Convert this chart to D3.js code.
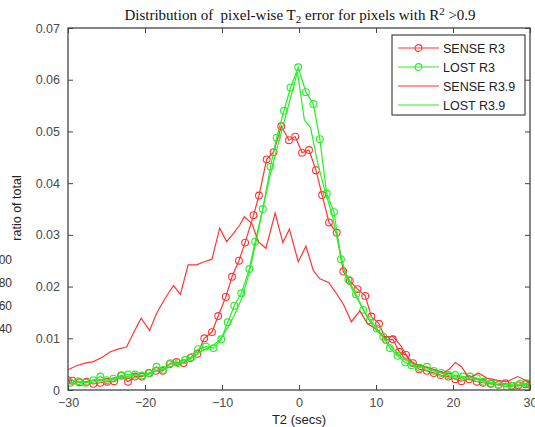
<!DOCTYPE html>
<html lang="en">
<head>
<meta charset="UTF-8">
<title>Distribution of pixel-wise T2 error</title>
<script src="https://d3js.org/d3.v7.min.js"></script>
<style>
    body { margin: 0; background: #fff; }
    .tick text { font-family: "Liberation Sans", Arial, sans-serif; font-size: 12.5px; fill: #4a4a4a; }
    .legend text { font-family: "Liberation Sans", Arial, sans-serif; font-size: 12.5px; fill: #222; }
</style>
</head>
<body>
<div id="chart"></div>
<script>
const width = 535;
const height = 427;
const margin = { top: 28, right: 5, bottom: 37, left: 68 };

// [T2 error (secs), ratio of total]
const senseR3 = [
    [-30, 0.0019], [-29.4, 0.0018], [-28.5, 0.0015], [-27.6, 0.0016], [-26.7, 0.0012], [-25.8, 0.0014],
    [-24.9, 0.0016], [-24.0, 0.0017], [-23.1, 0.0028], [-22.2, 0.0016], [-21.3, 0.0026], [-20.4, 0.0026],
    [-19.5, 0.0033], [-18.6, 0.0037], [-17.7, 0.0037], [-16.8, 0.005], [-15.9, 0.0054], [-15.0, 0.0052],
    [-14.1, 0.0062], [-13.2, 0.007], [-12.3, 0.010], [-11.3, 0.0112], [-10.5, 0.0143], [-9.5, 0.018],
    [-8.7, 0.0219], [-7.8, 0.025], [-7.0, 0.0285], [-5.9, 0.0338], [-5.2, 0.0376], [-4.2, 0.0446],
    [-3.3, 0.046], [-2.3, 0.051], [-1.3, 0.0483], [-0.5, 0.049], [0.4, 0.0459], [1.3, 0.0464],
    [2.2, 0.0425], [3.0, 0.0377], [3.9, 0.0324], [4.9, 0.0304], [5.75, 0.0229], [6.6, 0.0211],
    [7.6, 0.0195], [8.6, 0.0182], [9.4, 0.0142], [10.4, 0.0128], [11.3, 0.0097], [12.2, 0.0098],
    [13.0, 0.0074], [13.9, 0.0068], [14.8, 0.0052], [15.6, 0.004], [16.6, 0.0037], [17.5, 0.0033],
    [18.4, 0.0029], [19.4, 0.0026], [20.3, 0.0021], [21.1, 0.0017], [22.1, 0.0021], [23.1, 0.0016],
    [23.9, 0.0014], [24.9, 0.0012], [25.9, 0.001], [26.8, 0.0013], [27.6, 0.0008], [28.5, 0.0009],
    [29.4, 0.0011], [30, 0.0010]
];

const lostR3 = [
    [-29.7, 0.0014], [-28.7, 0.0017], [-27.7, 0.0014], [-26.7, 0.0019], [-25.8, 0.0026], [-25.0, 0.0019],
    [-24.1, 0.0022], [-23.0, 0.0028], [-22.2, 0.003], [-21.3, 0.003], [-20.4, 0.0028], [-19.4, 0.0032],
    [-18.5, 0.0045], [-17.6, 0.0039], [-16.7, 0.0052], [-15.7, 0.0052], [-14.8, 0.0058], [-13.9, 0.0064],
    [-13.1, 0.0079], [-12.1, 0.0084], [-11.1, 0.0081], [-10.1, 0.0098], [-9.26, 0.0131], [-8.4, 0.0163],
    [-7.5, 0.0187], [-6.45, 0.0234], [-5.7, 0.0287], [-4.7, 0.035], [-3.7, 0.0432], [-2.9, 0.0488],
    [-1.95, 0.054], [-1.1, 0.0585], [-0.1, 0.0624], [0.9, 0.0576], [1.86, 0.0553], [2.7, 0.0485],
    [3.6, 0.038], [4.55, 0.0344], [5.45, 0.0253], [6.4, 0.0214], [7.4, 0.0185], [8.35, 0.0155],
    [9.2, 0.0135], [10.1, 0.0119], [10.95, 0.0103], [11.8, 0.0081], [12.8, 0.0066], [13.8, 0.0053],
    [14.6, 0.0048], [15.7, 0.0043], [16.6, 0.0045], [17.5, 0.0037], [18.5, 0.0033], [19.4, 0.0029],
    [20.3, 0.0029], [21.3, 0.0026], [22.2, 0.0026], [23.1, 0.0023], [24.0, 0.0016], [25.0, 0.0013],
    [25.9, 0.001], [27.0, 0.0006], [27.8, 0.0008], [28.7, 0.0012], [29.6, 0.0013]
];

const senseR39 = [
    [-30, 0.0039], [-28.9, 0.0047], [-27.8, 0.0052], [-26.7, 0.0055], [-25.6, 0.0063], [-24.5, 0.0074],
    [-23.5, 0.0079], [-22.4, 0.0083], [-21.4, 0.0113], [-20.5, 0.0139], [-19.4, 0.0115], [-18.5, 0.0148],
    [-17.4, 0.0177], [-16.3, 0.0202], [-15.4, 0.0185], [-14.4, 0.0242], [-13.3, 0.0242], [-12.3, 0.0248],
    [-11.3, 0.0253], [-10.3, 0.0313], [-9.4, 0.0287], [-8.5, 0.0303], [-7.7, 0.0319], [-7.1, 0.0335],
    [-6.1, 0.0322], [-5.3, 0.0287], [-4.3, 0.0274], [-3.1, 0.0342], [-2.1, 0.0285], [-1.25, 0.0311],
    [-0.1, 0.0248], [0.9, 0.0278], [1.86, 0.0231], [2.7, 0.0215], [3.85, 0.0208], [4.85, 0.0187],
    [5.8, 0.0165], [6.8, 0.0132], [7.9, 0.0153], [8.9, 0.0128], [9.9, 0.0119], [11.0, 0.0102],
    [12.2, 0.0104], [13.3, 0.0084], [14.4, 0.0055], [15.5, 0.0048], [16.6, 0.0044], [17.7, 0.0039],
    [18.7, 0.0033], [19.5, 0.0040], [20.3, 0.0053], [21.1, 0.0045], [22.1, 0.0023], [23.3, 0.0033],
    [24.4, 0.0023], [25.7, 0.0019], [27.0, 0.0016], [28.4, 0.0026], [29.8, 0.0016], [30, 0.0015]
];

const lostR39 = [
    [-30, 0.0012], [-29, 0.0013], [-28, 0.0016], [-27, 0.0014], [-26, 0.0018], [-25, 0.0017],
    [-24, 0.0021], [-23, 0.0025], [-22, 0.0027], [-21, 0.0029], [-20, 0.0027], [-19, 0.0034],
    [-18, 0.0040], [-17, 0.0043], [-16, 0.0049], [-15, 0.0054], [-14, 0.0061], [-13, 0.0072],
    [-12, 0.0080], [-11, 0.0088], [-10.1, 0.0100], [-9.2, 0.0122], [-8.3, 0.0148], [-7.4, 0.0178],
    [-6.5, 0.0225], [-5.6, 0.0285], [-4.7, 0.035], [-3.8, 0.0412], [-2.9, 0.0465], [-2.0, 0.0515],
    [-1.1, 0.0565], [-0.2, 0.0615], [0.7, 0.0522], [1.5, 0.0508], [2.4, 0.0440], [3.4, 0.0383],
    [4.3, 0.034], [5.2, 0.0275], [6.1, 0.022], [7.0, 0.0192], [7.9, 0.0168], [8.8, 0.0142],
    [9.7, 0.0122], [10.6, 0.0108], [11.5, 0.0092], [12.4, 0.0077], [13.3, 0.0063], [14.2, 0.0055],
    [15.1, 0.0048], [16.0, 0.0045], [16.9, 0.0041], [17.8, 0.0037], [18.7, 0.0032], [19.6, 0.0027],
    [20.5, 0.0025], [21.4, 0.0023], [22.3, 0.0024], [23.2, 0.002], [24.1, 0.0017], [25.0, 0.0015],
    [25.9, 0.0013], [26.8, 0.0011], [27.7, 0.001], [28.6, 0.0009], [29.5, 0.0011], [30, 0.0012]
];

const xTicks = [-30, -20, -10, 0, 10, 20, 30];
const yTicks = [0, 0.01, 0.02, 0.03, 0.04, 0.05, 0.06, 0.07];
const strayLabels = ["100", "80", "60", "40"];   // cut-off labels at the left edge of the figure

const series = [
    { name: "SENSE R3", data: senseR3, color: "#ff3535", marker: true },
    { name: "LOST R3", data: lostR3, color: "#28ee28", marker: true },
    { name: "SENSE R3.9", data: senseR39, color: "#ff3535", marker: false },
    { name: "LOST R3.9", data: lostR39, color: "#28ee28", marker: false }
];

const x = d3.scaleLinear().domain([-30, 30]).range([margin.left, width - margin.right]);
const y = d3.scaleLinear().domain([0, 0.07]).range([height - margin.bottom, margin.top]);

const svg = d3.select("#chart").append("svg")
    .attr("width", width)
    .attr("height", height);

svg.append("clipPath").attr("id", "plot")
    .append("rect")
    .attr("x", margin.left).attr("y", margin.top)
    .attr("width", width - margin.left - margin.right)
    .attr("height", height - margin.top - margin.bottom);

// data lines
const line = d3.line().x(d => x(d[0])).y(d => y(d[1]));
const plot = svg.append("g").attr("clip-path", "url(#plot)");

series.forEach(s => {
    plot.append("path")
        .datum(s.data)
        .attr("fill", "none")
        .attr("stroke", s.color)
        .attr("stroke-width", 1.2)
        .attr("d", line);
    if (s.marker) {
        plot.selectAll(null)
            .data(s.data)
            .join("circle")
            .attr("cx", d => x(d[0]))
            .attr("cy", d => y(d[1]))
            .attr("r", 3.4)
            .attr("fill", "none")
            .attr("stroke", s.color)
            .attr("stroke-width", 1.1);
    }
});

// axes with inward ticks on all four sides
const axisColor = "#444";
const styleAxis = g => {
    g.select(".domain").remove();
    g.selectAll(".tick line").attr("stroke", axisColor);
};
svg.append("g")
    .attr("transform", `translate(0,${height - margin.bottom})`)
    .call(d3.axisBottom(x).tickValues(xTicks).tickSizeInner(-5).tickSizeOuter(0).tickPadding(8))
    .call(styleAxis);
svg.append("g")
    .attr("transform", `translate(0,${margin.top})`)
    .call(d3.axisTop(x).tickValues(xTicks).tickSizeInner(-5).tickSizeOuter(0).tickFormat(""))
    .call(styleAxis);
svg.append("g")
    .attr("transform", `translate(${margin.left},0)`)
    .call(d3.axisLeft(y).tickValues(yTicks).tickSizeInner(-5).tickSizeOuter(0).tickPadding(8)
        .tickFormat(d => d === 0 ? "0" : d3.format(".2f")(d)))
    .call(styleAxis);
svg.append("g")
    .attr("transform", `translate(${width - margin.right},0)`)
    .call(d3.axisRight(y).tickValues(yTicks).tickSizeInner(-5).tickSizeOuter(0).tickFormat(""))
    .call(styleAxis);

svg.append("rect")
    .attr("x", margin.left).attr("y", margin.top)
    .attr("width", width - margin.left - margin.right)
    .attr("height", height - margin.top - margin.bottom)
    .attr("fill", "none")
    .attr("stroke", axisColor)
    .attr("stroke-width", 1.3);

// title with sub/superscript
const title = svg.append("text")
    .attr("x", 300)
    .attr("y", 20)
    .attr("text-anchor", "middle")
    .style("white-space", "pre")
    .style("font-family", "'Liberation Serif', 'Times New Roman', serif")
    .style("font-size", "15px")
    .attr("fill", "#111");
title.append("tspan").text("Distribution of  pixel-wise T");
title.append("tspan").attr("dy", 3).style("font-size", "11px").text("2");
title.append("tspan").attr("dy", -3).text(" error for pixels with R");
title.append("tspan").attr("dy", -5).style("font-size", "11px").text("2");
title.append("tspan").attr("dy", 5).text(" >0.9");

svg.append("text")
    .attr("x", 299)
    .attr("y", 424)
    .attr("text-anchor", "middle")
    .style("font-family", "'Liberation Sans', Arial, sans-serif")
    .style("font-size", "13px")
    .attr("fill", "#222")
    .text("T2 (secs)");

svg.append("text")
    .attr("transform", "translate(21,208) rotate(-90)")
    .attr("text-anchor", "middle")
    .style("font-family", "'Liberation Sans', Arial, sans-serif")
    .style("font-size", "12.5px")
    .attr("fill", "#222")
    .text("ratio of total");

svg.selectAll(".stray")
    .data(strayLabels)
    .join("text")
    .attr("class", "stray")
    .attr("x", 12)
    .attr("y", (d, i) => 264 + i * 23)
    .attr("text-anchor", "end")
    .style("font-family", "'Liberation Sans', Arial, sans-serif")
    .style("font-size", "12px")
    .attr("fill", "#333")
    .text(d => d);

// legend
const legend = svg.append("g").attr("class", "legend");
legend.append("rect")
    .attr("x", 392).attr("y", 35)
    .attr("width", 133).attr("height", 80)
    .attr("fill", "#fff")
    .attr("stroke", axisColor)
    .attr("stroke-width", 1.2);

const item = legend.selectAll(".item")
    .data(series)
    .join("g")
    .attr("class", "item")
    .attr("transform", (d, i) => `translate(398,${48 + i * 19})`);
item.append("line")
    .attr("x1", 0).attr("x2", 41)
    .attr("stroke", d => d.color)
    .attr("stroke-width", 1.2);
item.filter(d => d.marker).append("circle")
    .attr("cx", 20.5).attr("r", 3.4)
    .attr("fill", "none")
    .attr("stroke", d => d.color)
    .attr("stroke-width", 1.1);
item.append("text")
    .attr("x", 45)
    .attr("dy", "0.36em")
    .text(d => d.name);
</script>
</body>
</html>
